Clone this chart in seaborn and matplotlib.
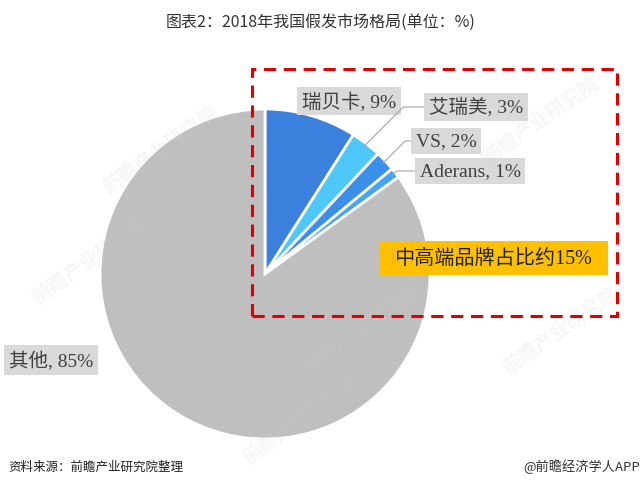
import matplotlib
matplotlib.use('Agg')
import matplotlib.pyplot as plt
import seaborn as sns
import numpy as np
from matplotlib.patches import Rectangle

sns.set_theme(style='white')
plt.rcParams['font.family'] = ['Liberation Serif', 'Noto Sans CJK SC']

# 数据
brands = ['瑞贝卡', '艾瑞美', 'VS', 'Aderans', '其他']
shares = [9, 3, 2, 1, 85]
colors = ['#3C80DE', '#4DC8F8', '#3A8FE8', '#44A6F0', '#BFBFBF']
# 标签中心位置 (像素, 自左上角)
label_pos = [(349, 102), (476, 108), (446, 142), (470, 172), (51, 361)]
has_leader = [False, True, True, True, False]

W, H = 642, 489
fig = plt.figure(figsize=(W / 100, H / 100), dpi=100)


def px(x, y):
    return x / W, 1 - y / H


# 饼图
cx, cy, r = 265, 275, 165
ax = fig.add_axes([(cx - r) / W, (H - cy - r) / H, 2 * r / W, 2 * r / H])
wedges, _ = ax.pie(shares, colors=colors, startangle=90, counterclock=False,
                   wedgeprops=dict(edgecolor='white', linewidth=2), radius=1)
ax.set_xlim(-1, 1)
ax.set_ylim(-1, 1)
ax.axis('off')

# 水印
wm_pos = [(160, 150), (90, 260), (540, 120), (360, 330), (560, 330), (300, 420)]
for x, y in wm_pos:
    fx, fy = px(x, y)
    fig.text(fx, fy, '前瞻产业研究院', rotation=35, ha='center', va='center',
             fontsize=14, color='#CCCCCC', alpha=0.18, fontweight='bold',
             family=['Noto Sans CJK SC'], zorder=0)

# 标签
for w, name, v, pos, lead in zip(wedges, brands, shares, label_pos, has_leader):
    fx, fy = px(*pos)
    ang = np.deg2rad((w.theta1 + w.theta2) / 2)
    if lead:
        kw = dict(xy=(0.98 * np.cos(ang), 0.98 * np.sin(ang)), xycoords='data',
                  arrowprops=dict(arrowstyle='-', color='#A6A6A6', lw=0.8,
                                  shrinkA=0, shrinkB=0,
                                  connectionstyle='angle,angleA=0,angleB=45,rad=0'))
    else:
        kw = dict(xy=(fx, fy), xycoords='figure fraction')
    ax.annotate(f'{name}, {v}%', xytext=(fx, fy), textcoords='figure fraction',
                ha='center', va='center', fontsize=14, color='#404040',
                bbox=dict(boxstyle='square,pad=0.25', fc='#D9D9D9', ec='none'),
                annotation_clip=False, **kw)

# 红色虚线框
x0, y0 = px(252, 317)
x1, y1 = px(617, 70)
fig.patches.append(Rectangle((x0, y0), x1 - x0, y1 - y0, transform=fig.transFigure,
                             fill=False, ec='#E00000', lw=2.2, ls=(0, (4, 2.5))))

# 中高端品牌
ox0, oy0 = px(379, 276)
ox1, oy1 = px(608, 242)
fig.patches.append(Rectangle((ox0, oy0), ox1 - ox0, oy1 - oy0, transform=fig.transFigure,
                             fc='#FFC000', ec='none'))
tx, ty = px(493, 259)
fig.text(tx, ty, '中高端品牌占比约15%', ha='center', va='center', fontsize=14.5, color='#222222')

# 标题与来源
t1x, t1y = px(321, 22)
fig.text(t1x, t1y, '图表2：2018年我国假发市场格局(单位：%)', ha='center', va='center',
         fontsize=11.5, color='#333333', family=['Noto Sans CJK SC', 'DejaVu Sans'])
sx, sy = px(8, 467)
fig.text(sx, sy, '资料来源：前瞻产业研究院整理', ha='left', va='center', fontsize=9,
         style='italic', color='#222222', family=['Noto Sans CJK SC'])
rx, ry = px(640, 467)
fig.text(rx, ry, '@前瞻经济学人APP', ha='right', va='center', fontsize=9.5,
         color='#333333', family=['Noto Sans CJK SC', 'DejaVu Sans'])

fig.savefig('out.png', dpi=100)
